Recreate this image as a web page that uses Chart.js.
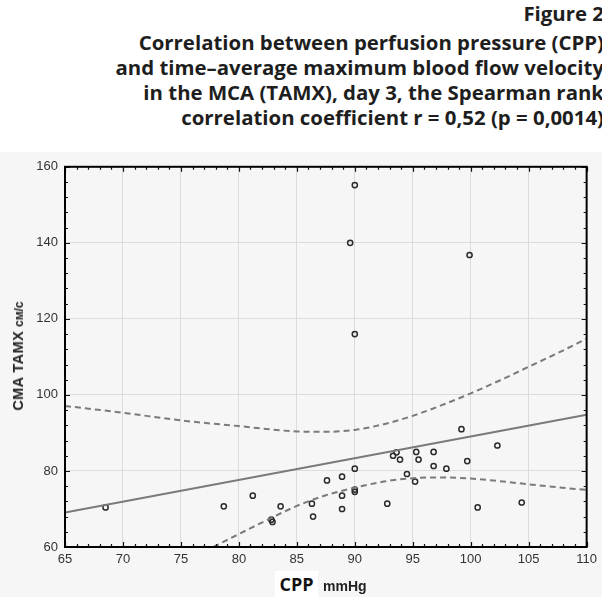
<!DOCTYPE html>
<html>
<head>
<meta charset="utf-8">
<script src="https://cdn.jsdelivr.net/npm/chart.js@4.4.1/dist/chart.umd.min.js"></script>
<style>
  html, body { margin:0; padding:0; background:#fff; width:602px; height:597px; overflow:hidden; position:relative; }
  #heading { position:absolute; right:-2px; top:1px; text-align:right; font-family:"Open Sans", sans-serif; font-weight:700; font-size:20.4px; line-height:25px; color:#1e1e1e; white-space:nowrap; }
  #heading .fig { margin-bottom:4px; }
  #panel { position:absolute; left:0; top:152px; width:602px; height:445px; background:#f6f6f6; }
  #yTitle { position:absolute; left:18px; top:356px; transform:translate(-50%,-50%) rotate(-90deg); white-space:nowrap; color:#222; font-family:"Liberation Sans", Arial, sans-serif; font-weight:700; }
  #yTitle .main { font-size:14.5px; letter-spacing:0.4px; }
  #yTitle .unit { font-size:12px; margin-left:4px; }
  #xCpp { position:absolute; left:275px; top:571px; width:43px; height:26px; background:#fff; text-align:center; font-family:"Open Sans", sans-serif; font-weight:700; font-size:18px; line-height:26px; color:#111; }
  #xUnit { position:absolute; left:323px; top:577px; font-family:"Liberation Sans", Arial, sans-serif; font-weight:700; font-size:14px; line-height:18px; color:#222; }
</style>
</head>
<body>

<div id="heading">
  <div class="fig">Figure 2</div>
  <div>Correlation between perfusion pressure (CPP)</div>
  <div>and time–average maximum blood flow velocity</div>
  <div>in the MCA (TAMX), day 3, the Spearman rank</div>
  <div>correlation coefficient r = 0,52 (p = 0,0014)</div>
</div>

<div id="panel">
  <canvas id="corrChart" width="602" height="445"></canvas>
</div>

<div id="yTitle"><span class="main">CMA TAMX</span><span class="unit">см/с</span></div>
<div id="xCpp">CPP</div>
<div id="xUnit">mmHg</div>

<script>
/* ==========================
   DATA
========================== */

const cppValues = [
  68.5, 78.7, 81.2, 82.8, 82.9, 83.6, 86.3, 86.4, 87.6, 88.9,
  88.9, 88.9, 89.6, 90.0, 90.0, 90.0, 90.0, 90.0, 92.8, 93.3,
  93.6, 93.9, 94.5, 95.2, 95.3, 95.5, 96.8, 96.8, 97.9, 99.2,
  99.7, 99.9, 100.6, 102.3, 104.4
];

const tamxValues = [
  70.4, 70.7, 73.5, 67.2, 66.6, 70.7, 71.4, 68.0, 77.5, 78.5,
  73.5, 70.0, 140.0, 155.2, 116.0, 80.6, 75.1, 74.5, 71.4, 84.0,
  84.9, 83.0, 79.2, 77.2, 85.0, 83.0, 85.0, 81.3, 80.6, 91.0,
  82.6, 136.8, 70.4, 86.7, 71.7
];

// regression line
const fitCpp  = [65, 110];
const fitTamx = [69.1, 94.8];

// upper confidence band
const upperCpp  = [65, 70, 75, 80, 85, 87.5, 90, 92.5, 95, 97.5, 100, 102.5, 105, 107.5, 110];
const upperTamx = [97.1, 95.3, 93.3, 91.8, 90.4, 90.3, 90.8, 92.3, 94.5, 97.3, 100.4, 103.8, 107.4, 111.0, 114.8];

// lower confidence band
const lowerCpp  = [77.8, 80, 82.5, 85, 87.5, 90, 92.5, 95, 97.5, 100, 102.5, 105, 107.5, 110];
const lowerTamx = [60.0, 63.4, 67.2, 70.8, 73.6, 75.6, 77.2, 78.1, 78.3, 78.0, 77.3, 76.5, 75.7, 75.0];

const xTicks = [65, 70, 75, 80, 85, 90, 95, 100, 105, 110];
const yTicks = [60, 80, 100, 120, 140, 160];

const xMinorStep = 1;
const yMinorStep = 4;

const toPoints = (xs, ys) => xs.map((x, i) => ({ x: x, y: ys[i] }));

/* ==========================
   FRAME + INNER TICKS
========================== */

const framePlugin = {
  id: "frame",
  afterDatasetsDraw(chart) {
    const ctx = chart.ctx;
    const a = chart.chartArea;
    const sx = chart.scales.x;
    const sy = chart.scales.y;

    ctx.save();
    ctx.strokeStyle = "#111";
    ctx.lineWidth = 1.2;
    ctx.beginPath();

    const nx = Math.round((sx.max - sx.min) / xMinorStep);
    for (let i = 0; i <= nx; i++) {
      const v = sx.min + i * xMinorStep;
      const px = Math.round(sx.getPixelForValue(v)) + 0.5;
      const len = xTicks.includes(v) ? 5 : 3;
      ctx.moveTo(px, a.bottom); ctx.lineTo(px, a.bottom - len);
      ctx.moveTo(px, a.top);    ctx.lineTo(px, a.top + len);
    }

    const ny = Math.round((sy.max - sy.min) / yMinorStep);
    for (let i = 0; i <= ny; i++) {
      const v = sy.min + i * yMinorStep;
      const py = Math.round(sy.getPixelForValue(v)) + 0.5;
      const len = yTicks.includes(v) ? 5 : 3;
      ctx.moveTo(a.left, py);  ctx.lineTo(a.left + len, py);
      ctx.moveTo(a.right, py); ctx.lineTo(a.right - len, py);
    }
    ctx.stroke();

    ctx.lineWidth = 2;
    ctx.strokeStyle = "#000";
    ctx.strokeRect(a.left, a.top, a.right - a.left, a.bottom - a.top);
    ctx.restore();
  }
};

/* ==========================
   CHART
========================== */

const bandStyle = {
  showLine: true,
  pointRadius: 0,
  borderColor: "#7a7a7a",
  borderWidth: 2,
  borderDash: [6, 4],
  cubicInterpolationMode: "monotone",
  fill: false
};

new Chart(document.getElementById("corrChart"), {
  type: "scatter",
  data: {
    datasets: [
      Object.assign({ label: "upper", data: toPoints(upperCpp, upperTamx) }, bandStyle),
      Object.assign({ label: "lower", data: toPoints(lowerCpp, lowerTamx) }, bandStyle),
      {
        label: "fit",
        data: toPoints(fitCpp, fitTamx),
        showLine: true,
        pointRadius: 0,
        borderColor: "#7a7a7a",
        borderWidth: 2
      },
      {
        label: "TAMX",
        data: toPoints(cppValues, tamxValues),
        pointRadius: 2.6,
        pointBorderWidth: 1.5,
        pointBorderColor: "#2a2a2a",
        pointBackgroundColor: "rgba(0,0,0,0)"
      }
    ]
  },
  options: {
    responsive: false,
    animation: false,
    layout: { padding: { top: 10, right: 12, left: 0, bottom: 0 } },
    plugins: {
      legend: { display: false },
      tooltip: { enabled: false }
    },
    scales: {
      x: {
        type: "linear",
        min: 65,
        max: 110,
        afterBuildTicks: s => { s.ticks = xTicks.map(v => ({ value: v })); },
        afterFit: s => { s.height = 50; },
        grid: { color: "#dcdcdc", drawTicks: false },
        border: { display: false },
        ticks: {
          padding: 5,
          color: "#333",
          autoSkip: false,
          maxRotation: 0,
          font: { family: "Liberation Sans", size: 13 }
        }
      },
      y: {
        type: "linear",
        min: 60,
        max: 160,
        afterBuildTicks: s => { s.ticks = yTicks.map(v => ({ value: v })); },
        afterFit: s => { s.width = 65; },
        grid: { color: "#dcdcdc", drawTicks: false },
        border: { display: false },
        ticks: {
          padding: 7,
          color: "#333",
          font: { family: "Liberation Sans", size: 13 }
        }
      }
    }
  },
  plugins: [framePlugin]
});
</script>
</body>
</html>
